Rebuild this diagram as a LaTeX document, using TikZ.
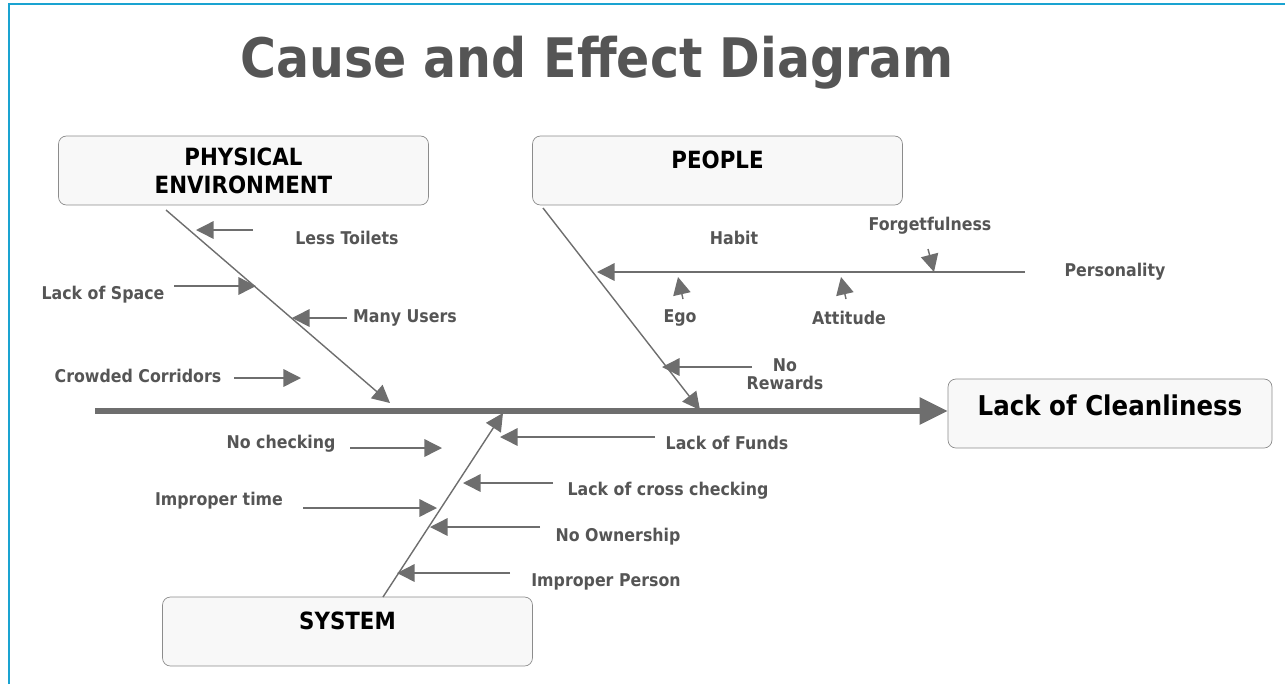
\documentclass[tikz,border=0pt]{standalone}
\usepackage{fontspec}
\setmainfont{DejaVu Sans}[FakeStretch=0.9]
\usetikzlibrary{arrows.meta}
\definecolor{fishgrey}{HTML}{6E6E6E}
\definecolor{labelgrey}{HTML}{555555}
\definecolor{boxline}{HTML}{8C8C8C}
\definecolor{boxfill}{HTML}{F8F8F8}
\definecolor{framecyan}{HTML}{1AA3D1}

\begin{document}
\begin{tikzpicture}[x=0.02cm, y=-0.02cm,
        box/.style={draw=boxline, fill=boxfill, rounded corners=4.5pt, minimum width=7.4cm, minimum height=1.38cm, inner sep=0pt, font=\fontsize{13.5}{16}\selectfont\bfseries, align=center},
        cause/.style={text=labelgrey, font=\fontsize{10}{10.5}\selectfont\bfseries, align=center},
        bone/.style={draw=fishgrey, line width=0.8pt, -{Triangle[length=10pt, width=10pt]}},
        spine/.style={draw=fishgrey, line width=3pt, -{Triangle[length=16pt, width=15pt]}}
    ]
      \useasboundingbox (0,0) rectangle (1285,684);
      \draw[framecyan, line width=1.2pt] (9,684) -- (9,4) -- (1285,4);

      % Title
      \node[text=labelgrey, font=\fontsize{31}{34}\selectfont\bfseries] (title) at (597,63) {Cause and Effect Diagram};

      % Categories and effect
      \node[box] (phys) at (243.5,170.5) {PHYSICAL\\ENVIRONMENT};
      \node[box, text height=10pt, text depth=12pt] (people) at (717.5,170.5) {PEOPLE};
      \node[box, text height=10pt, text depth=12pt] (system) at (347.5,631.5) {SYSTEM};
      \node[box, minimum width=6.48cm, font=\fontsize{15.5}{17}\selectfont\bfseries, text height=12pt, text depth=10pt] (effect) at (1110,413.5) {Lack of Cleanliness};

      % Backbone
      \coordinate (tail) at (95,411);
      \draw[spine] (tail) -- (effect.west |- tail);

      % Physical environment bone
      \coordinate (physroot) at (166,210);
      \coordinate (physhead) at (390,403);
      \draw[bone] (physroot) -- (physhead);
      \node[cause] (toilets) at (347,238) {Less Toilets};
      \node[cause] (space) at (103,295) {Lack of Space};
      \node[cause] (users) at (405,318) {Many Users};
      \node[cause] (corridors) at (138,376) {Crowded Corridors};
      \coordinate (toiletsA) at (253,230); \coordinate (toiletsB) at (196,230);
      \coordinate (spaceA) at (174,286); \coordinate (spaceB) at (256,286);
      \coordinate (corrA) at (234,378); \coordinate (corrB) at (301,378);
      \draw[bone] (toiletsA) -- (toiletsB);
      \draw[bone] (spaceA) -- (spaceB);
      \draw[bone] (users.west) -- ++(-55,0) coordinate (usersB);
      \draw[bone] (corrA) -- (corrB);

      % People bone
      \coordinate (peopleroot) at (543,208);
      \coordinate (peoplehead) at (700,410);
      \draw[bone] (peopleroot) -- (peoplehead);
      \node[cause] (habit) at (734,238) {Habit};
      \node[cause] (forget) at (930,226) {Forgetfulness};
      \node[cause] (personality) at (1115,272) {Personality};
      \node[cause] (ego) at (680,318) {Ego};
      \node[cause] (attitude) at (849,318) {Attitude};
      \node[cause] (rewards) at (785,374) {No\\Rewards};
      \coordinate (persA) at (1025,272); \coordinate (persB) at (597,272);
      \draw[bone] (persA) -- (persB);
      \coordinate (forgetA) at (928,249); \coordinate (forgetB) at (934,272);
      \draw[bone] (forgetA) -- (forgetB);
      \coordinate (egoA) at (683,299); \coordinate (egoB) at (678,277);
      \draw[bone] (egoA) -- (egoB);
      \coordinate (attA) at (846,299); \coordinate (attB) at (841,277);
      \draw[bone] (attA) -- (attB);
      \coordinate (rewardsA) at (752,367); \coordinate (rewardsB) at (662,367);
      \draw[bone] (rewardsA) -- (rewardsB);

      % System bone
      \coordinate (sysroot) at (383,597);
      \coordinate (syshead) at (503,413);
      \draw[bone] (sysroot) -- (syshead);
      \node[cause] (nocheck) at (281,444) {No checking};
      \node[cause] (funds) at (727,443) {Lack of Funds};
      \node[cause] (imptime) at (219,501) {Improper time};
      \node[cause] (cross) at (668,491) {Lack of cross checking};
      \node[cause] (owner) at (618,537) {No Ownership};
      \node[cause] (impperson) at (606,582) {Improper Person};
      \coordinate (nocheckA) at (350,448); \coordinate (nocheckB) at (442,448);
      \coordinate (fundsA) at (655,437); \coordinate (fundsB) at (500,437);
      \coordinate (imptimeA) at (303,508); \coordinate (imptimeB) at (437,508);
      \coordinate (crossA) at (553,483); \coordinate (crossB) at (463,483);
      \coordinate (ownerA) at (540,527); \coordinate (ownerB) at (430,527);
      \coordinate (personA) at (510,573); \coordinate (personB) at (397,573);
      \draw[bone] (nocheckA) -- (nocheckB);
      \draw[bone] (fundsA) -- (fundsB);
      \draw[bone] (imptimeA) -- (imptimeB);
      \draw[bone] (crossA) -- (crossB);
      \draw[bone] (ownerA) -- (ownerB);
      \draw[bone] (personA) -- (personB);
\end{tikzpicture}
\end{document}
